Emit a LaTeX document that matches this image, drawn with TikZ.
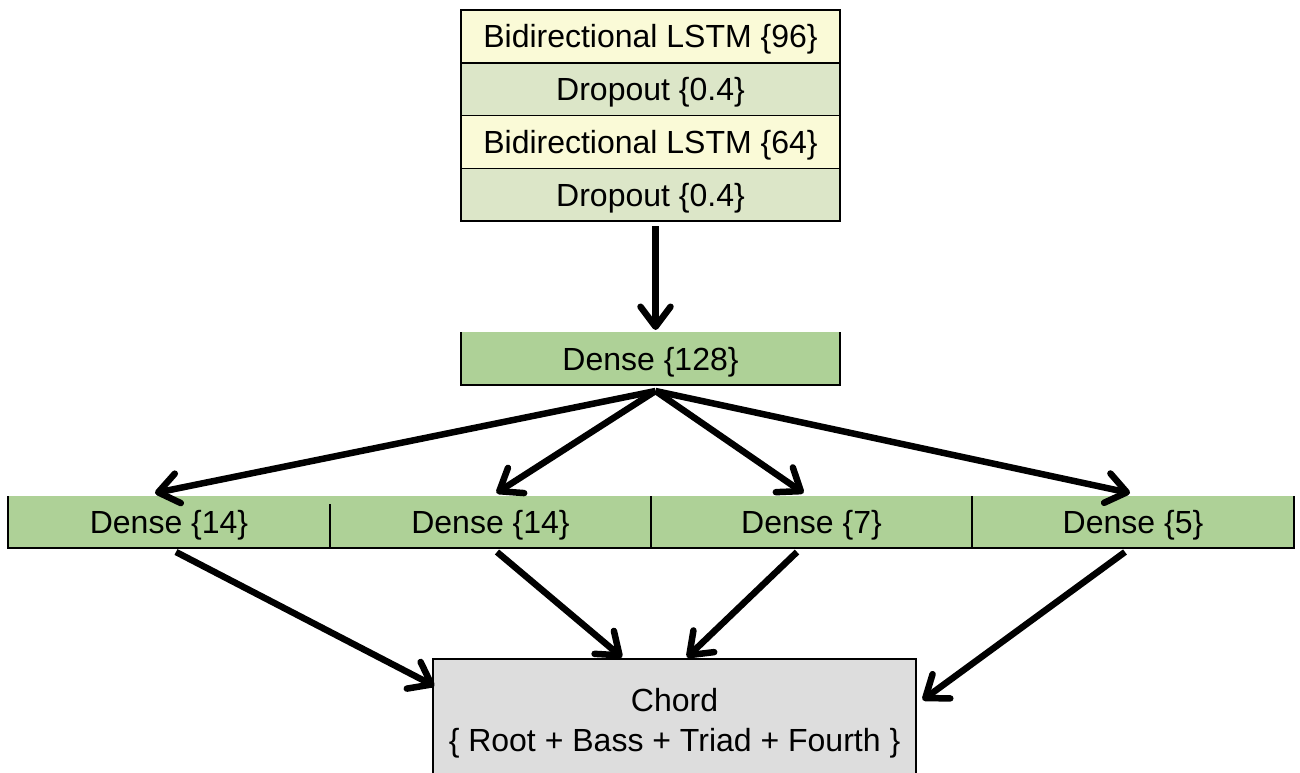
\documentclass[tikz,border=0pt]{standalone}
\usepackage{fontspec}
\setmainfont{Liberation Sans}
\usetikzlibrary{arrows.meta,positioning}

\definecolor{lstmyellow}{RGB}{250,250,215}
\definecolor{dropgreen}{RGB}{220,230,200}
\definecolor{densegreen}{RGB}{174,209,151}
\definecolor{chordgray}{RGB}{221,221,221}

\tikzset{
  layer/.style={rectangle, draw=black, line width=1.5pt, inner sep=0pt, outer sep=0pt,
    minimum width=379pt, minimum height=52.75pt, text height=27pt, text depth=4pt,
    font=\fontsize{32}{38}\selectfont},
  lstm/.style={layer, fill=lstmyellow},
  drop/.style={layer, fill=dropgreen},
  dense/.style={rectangle, fill=densegreen, inner sep=0pt, outer sep=0pt,
    minimum height=52pt, text height=27pt, text depth=4pt,
    font=\fontsize{32}{38}\selectfont},
  edge/.style={draw=black, line width=1.3pt},
  arr/.style={line width=6.5pt, -{Straight Barb[length=20pt,width=30pt,round]}}
}

\begin{document}
\begin{tikzpicture}[x=1pt,y=-1pt]
 \useasboundingbox (0,0) rectangle (1300,773);

 % recurrent stack
 \node[lstm] (lstmA) at (650.5,36.5) {Bidirectional LSTM \{96\}};
 \node[drop, below=0pt of lstmA] (dropA) {Dropout \{0.4\}};
 \node[lstm, below=0pt of dropA] (lstmB) {Bidirectional LSTM \{64\}};
 \node[drop, below=0pt of lstmB] (dropB) {Dropout \{0.4\}};

 % shared dense layer
 \node[dense, minimum width=379pt, minimum height=53pt] (d128) at (650.5,358.5) {Dense \{128\}};
 \draw[edge] (d128.north west) -- (d128.south west) -- (d128.south east) -- (d128.north east);

 % output heads
 \node[dense, minimum width=322pt] (dA) at (169,522) {Dense \{14\}};
 \node[dense, minimum width=321pt] (dB) at (490.5,522) {Dense \{14\}};
 \node[dense, minimum width=321pt] (dC) at (811.5,522) {Dense \{7\}};
 \node[dense, minimum width=322pt] (dD) at (1133,522) {Dense \{5\}};
 \draw[edge] (dA.north west) -- (dA.south west) -- (dD.south east) -- (dD.north east);
 \draw[edge] ([yshift=-8pt]dA.north east) -- (dA.south east);
 \draw[edge] (dB.north east) -- (dB.south east);
 \draw[edge] (dC.north east) -- (dC.south east);

 % target
 \node[rectangle, draw=black, line width=1.3pt, fill=chordgray, inner sep=0pt,
   minimum width=483pt, minimum height=128pt, align=center,
   font=\fontsize{32}{40}\selectfont] (chord) at (674.5,723)
   {Chord\\\{ Root + Bass + Triad + Fourth \}};

 % arrows
 \draw[arr] ([xshift=5pt,yshift=-5pt]dropB.south) -- ([xshift=5pt,yshift=2pt]d128.north);

 \coordinate (fan) at ([xshift=5pt,yshift=-6pt]d128.south);
 \draw[arr] (fan) -- ([xshift=-14pt,yshift=3pt]dA.north);
 \draw[arr] (fan) -- ([xshift=6pt,yshift=3pt]dB.north);
 \draw[arr] (fan) -- ([xshift=-8pt,yshift=3pt]dC.north);
 \draw[arr] (fan) -- ([xshift=-3pt,yshift=3pt]dD.north);

 \draw[arr] ([xshift=7pt,yshift=-4pt]dA.south) -- ([xshift=2pt,yshift=37pt]chord.west);
 \draw[arr] ([xshift=6.5pt,yshift=-4pt]dB.south) -- ([xshift=-52.5pt,yshift=1pt]chord.north);
 \draw[arr] ([xshift=-14.5pt,yshift=-4pt]dC.south) -- ([xshift=12.5pt,yshift=1pt]chord.north);
 \draw[arr] ([xshift=-8pt,yshift=-4pt]dD.south) -- ([xshift=6pt,yshift=23pt]chord.east);
\end{tikzpicture}
\end{document}
